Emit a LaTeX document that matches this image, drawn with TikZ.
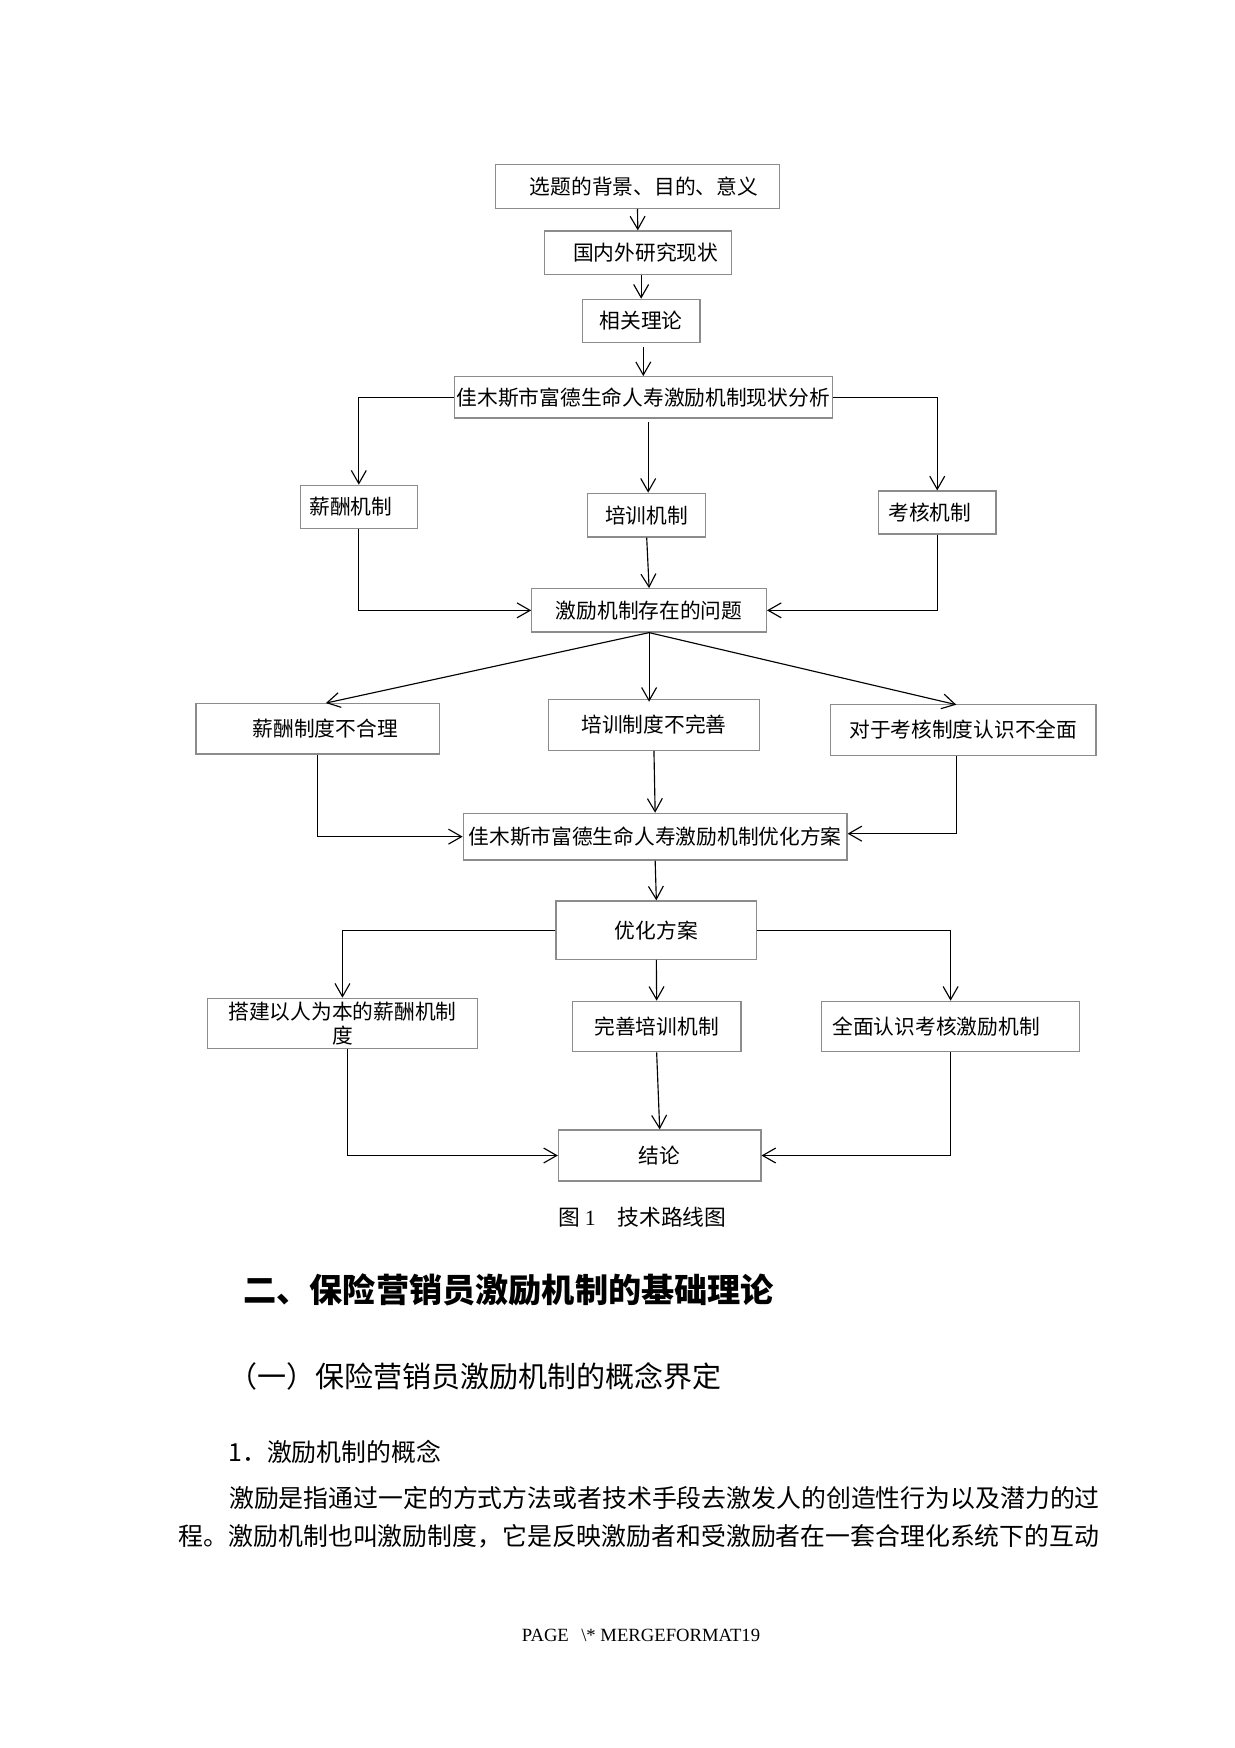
\documentclass[tikz,border=0pt]{standalone}
\usepackage{fontspec}
\setmainfont{Liberation Serif}
\newfontfamily\cjk{Noto Sans CJK SC}
\usetikzlibrary{arrows.meta,calc}
\newdimen\px \px=0.4824pt
\definecolor{boxgray}{gray}{0.55}
\tikzset{
  box/.style={draw=boxgray, line width=0.6pt, inner sep=0pt, align=center,
    font=\cjk\fontsize{10pt}{11.6pt}\selectfont},
  arr/.style={draw=black, line width=0.55pt, -{Straight Barb[length=6.3pt,width=7.2pt]}},
  txt/.style={inner sep=0pt, anchor=west},
}
\newcommand\bx[6]{\node[box, minimum width={(#4-#2)*0.4824pt}, minimum height={(#5-#3)*0.4824pt}] (#1) at ({(#2+#4)/2},{(#3+#5)/2}) {#6};}
\begin{document}
\begin{tikzpicture}[x=0.4824pt, y=-0.4824pt]
\fill[white] (0,0) rectangle (1234,1748);
\useasboundingbox (0,0) rectangle (1234,1748);

% boxes
\bx{b1}{495.7}{164.3}{779.3}{208.3}{\hspace*{13\px}选题的背景、目的、意义}
\bx{b2}{544.3}{231}{731.3}{274.3}{\hspace*{16\px}国内外研究现状}
\bx{b3}{582.3}{299.3}{700}{342.3}{相关理论}
\bx{b4}{454.3}{376.7}{832.3}{418}{佳木斯市富德生命人寿激励机制现状分析}
\bx{b5}{300.3}{485.3}{417.3}{528.3}{薪酬机制\hspace*{16\px}}
\bx{b6}{587.6}{493.3}{705.8}{537}{培训机制}
\bx{b7}{878.5}{491}{996}{534}{考核机制\hspace*{15\px}}
\bx{b8}{531.8}{588.7}{766.4}{632}{激励机制存在的问题}
\bx{b9}{196}{703.7}{439.7}{754}{\hspace*{15\px}薪酬制度不合理}
\bx{b10}{548.2}{699.3}{759.7}{750.3}{培训制度不完善}
\bx{b11}{830.6}{704.3}{1096}{755.3}{对于考核制度认识不全面}
\bx{b12}{463.3}{813.3}{847}{860}{佳木斯市富德生命人寿激励机制优化方案}
\bx{b13}{556}{901}{756.7}{959.3}{优化方案}
\bx{b14}{207.6}{998.3}{477.3}{1048.3}{搭建以人为本的薪酬机制\\度}
\bx{b15}{572.4}{1001.3}{740.9}{1051.7}{完善培训机制}
\bx{b16}{821.5}{1001.3}{1079.7}{1051.7}{全面认识考核激励机制\hspace*{29\px}}
\bx{b17}{558.5}{1130}{760.9}{1181}{结论}

% connectors
\draw[arr] (b1.south) -- (b2.north);
\draw[arr] (b3.north |- b2.south) -- (b3.north);
\draw[arr] ($(b4.north |- b3.south)+(0,4)$) -- (b4.north);
\draw[arr] (b4.west) -| (b5.north);
\draw[arr] ($(b6.north |- b4.south)+(1.5,3)$) -- ($(b6.north)+(1.5,0)$);
\draw[arr] (b4.east) -| (b7.north);
\draw[arr] (b5.south) |- (b8.west);
\draw[arr] (b6.south) -- (b8.north);
\draw[arr] (b7.south) |- (b8.east);
\draw[arr] (b8.south) -- ($(b9.north)+(8,0)$);
\draw[arr] (b8.south) -- ($(b8.south |- b10.north)+(0,3)$);
\draw[arr] (b8.south) -- ($(b11.north)+(-7,1)$);
\draw[arr] (b9.south) |- (b12.west);
\draw[arr] (b10.south) -- (b12.north);
\draw[arr] ($(b11.south)+(-7,0)$) |- ($(b12.east)+(0,-3)$);
\draw[arr] (b12.south) -- (b13.north);
\draw[arr] (b13.west) -| (b14.north);
\draw[arr] (b13.south) -- (b15.north);
\draw[arr] (b13.east) -| (b16.north);
\draw[arr] ($(b14.south)+(5,0)$) |- (b17.west);
\draw[arr] (b15.south) -- (b17.north);
\draw[arr] (b16.south) |- (b17.east);

% caption and text
\node[inner sep=0pt, font=\cjk\fontsize{10.5pt}{12pt}\selectfont] (cap) at (642.4,1216.7) {图 {\rmfamily 1}　技术路线图};
\node[txt, font=\cjk\fontsize{16pt}{18pt}\selectfont\bfseries] (h1) at (243,1290) {二、保险营销员激励机制的基础理论};
\node[txt, font=\cjk\fontsize{14pt}{16pt}\selectfont] (h2) at (228,1376.7) {（一）保险营销员激励机制的概念界定};
\node[txt, font=\cjk\fontsize{12pt}{14pt}\selectfont] (h3) at (228,1451.7) {1．激励机制的概念};
\node[txt, font=\cjk\fontsize{12pt}{14pt}\selectfont] (p1) at (228.8,1498.3) {激励是指通过一定的方式方法或者技术手段去激发人的创造性行为以及潜力的过};
\node[txt, font=\cjk\fontsize{12pt}{14pt}\selectfont] (p2) at (178.5,1536.7) {程。激励机制也叫激励制度，它是反映激励者和受激励者在一套合理化系统下的互动};
\node[inner sep=0pt, font=\fontsize{9pt}{11pt}\selectfont] (pg) at (641,1635) {PAGE\hspace{6pt}\textbackslash* MERGEFORMAT19};
\end{tikzpicture}
\end{document}
